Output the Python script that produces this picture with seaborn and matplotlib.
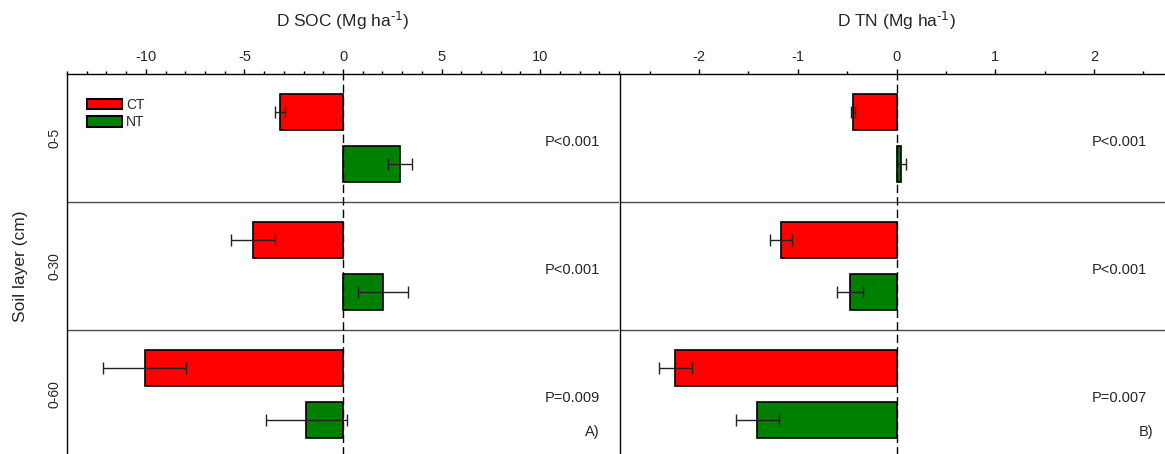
import numpy as np
import pandas as pd
import matplotlib
matplotlib.use("Agg")
import matplotlib.pyplot as plt
from matplotlib.ticker import MultipleLocator
import seaborn as sns

# ---------------------------------------------------------------------
# data
# ---------------------------------------------------------------------
layers = ["0-5", "0-30", "0-60"]
tillage = ["CT", "NT"]

soc_ct = [-3.2, -4.57, -10.06]
soc_ct_err = [0.25, 1.13, 2.09]
soc_nt = [2.9, 2.02, -1.86]
soc_nt_err = [0.6, 1.26, 2.04]

tn_ct = [-0.44, -1.17, -2.24]
tn_ct_err = [0.02, 0.11, 0.17]
tn_nt = [0.05, -0.47, -1.41]
tn_nt_err = [0.05, 0.13, 0.22]

p_soc = ["P<0.001", "P<0.001", "P=0.009"]
p_tn = ["P<0.001", "P<0.001", "P=0.007"]

df = pd.DataFrame({
    "layer": layers * 2,
    "tillage": ["CT"] * 3 + ["NT"] * 3,
    "soc": soc_ct + soc_nt,
    "soc_err": soc_ct_err + soc_nt_err,
    "tn": tn_ct + tn_nt,
    "tn_err": tn_ct_err + tn_nt_err,
})

# ---------------------------------------------------------------------
sns.set_style("white")
plt.rcParams["font.family"] = ["Liberation Sans", "DejaVu Sans"]
plt.rcParams["mathtext.default"] = "regular"
plt.rcParams["axes.unicode_minus"] = False

colors = {"CT": "#ff0000", "NT": "#008000"}

fig = plt.figure(figsize=(11.65, 4.54), dpi=100)
H = 454.0
W = 1165.0
ax1 = fig.add_axes([67 / W, -4 / H, 552 / W, 384 / H])
ax2 = fig.add_axes([620 / W, -4 / H, 553 / W, 384 / H])


def draw_panel(ax, col, lim, major, minor, xlabel, ptexts, ptx, tag, tagx):
    sns.barplot(data=df, y="layer", x=col, hue="tillage", order=layers,
                hue_order=tillage, palette=colors, saturation=1,
                edgecolor="black", linewidth=1.2, gap=0.3, errorbar=None,
                legend=False, orient="h", ax=ax)
    for cont, lev in zip(ax.containers, tillage):
        sub = df[df["tillage"] == lev]
        for bar, v, e in zip(cont, sub[col].values, sub[col + "_err"].values):
            y = bar.get_y() + bar.get_height() / 2
            ax.errorbar(v, y, xerr=e, fmt="none", ecolor="#222222",
                        elinewidth=1, capsize=4.2, capthick=1, zorder=5)

    ax.axvline(0, color="black", lw=1, ls=(0, (6, 3)), zorder=6)
    for yy in (0.5, 1.5):
        ax.axhline(yy, color="#4a4a4a", lw=1, zorder=1)

    ax.set_xlim(-lim, lim)
    ax.set_ylim(2.5, -0.5)
    ax.xaxis.tick_top()
    ax.xaxis.set_label_position("top")
    ax.xaxis.set_major_locator(MultipleLocator(major))
    ax.xaxis.set_minor_locator(MultipleLocator(minor))
    ax.tick_params(axis="x", which="both", direction="out", top=True,
                   bottom=False, color="black", width=1, labelsize=10.5, pad=3.5)
    ax.tick_params(axis="x", which="major", length=3.5)
    ax.tick_params(axis="x", which="minor", length=2)
    ax.set_xlabel(xlabel, fontsize=12.5, labelpad=17)

    for sp in ("bottom", "right"):
        ax.spines[sp].set_visible(False)
    for sp in ("left", "top"):
        ax.spines[sp].set_color("black")
        ax.spines[sp].set_linewidth(1)

    for i, t in enumerate(ptexts):
        ax.text(ptx, i + 0.03, t, ha="right", va="center", fontsize=10.5)
    ax.text(tagx, 2.3, tag, ha="right", va="center", fontsize=10.5)


draw_panel(ax1, "soc", 14, 5, 1, r"D SOC (Mg ha$^{\text{-1}}$)", p_soc, 13.05, "A)", 13.0)
draw_panel(ax2, "tn", 2.8, 1, 0.5, r"D TN (Mg ha$^{\text{-1}}$)", p_tn, 2.54, "B)", 2.6)

ax1.tick_params(axis="y", length=0, labelrotation=90, labelsize=10, pad=4)
for lab in ax1.get_yticklabels():
    lab.set_va("center")
ax1.set_ylabel("Soil layer (cm)", fontsize=12.5, labelpad=14)

ax2.set_ylabel("")
ax2.tick_params(axis="y", length=0, labelleft=False)

handles = [plt.Rectangle((0, 0), 1, 1, facecolor=colors[t], edgecolor="black",
                         linewidth=1.5) for t in tillage]
ax1.legend(handles, tillage, loc="upper left", bbox_to_anchor=(0.036, 0.9375),
           frameon=False, fontsize=10, borderpad=0, borderaxespad=0,
           handlelength=2.5, handleheight=0.8, handletextpad=0.3,
           labelspacing=0.22)

fig.savefig("out.png", dpi=100)
